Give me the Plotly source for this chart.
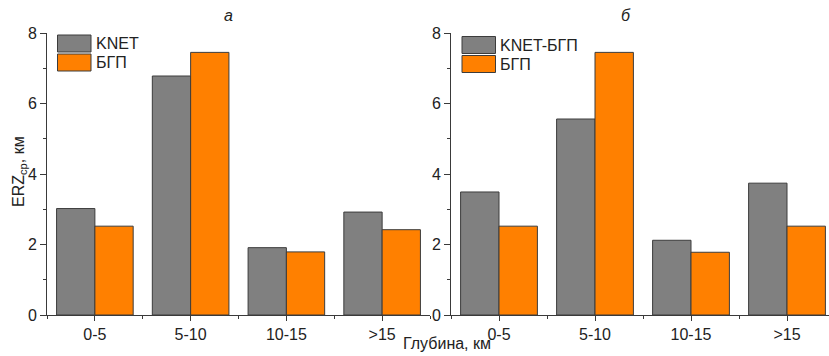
import plotly.graph_objects as go

# ---- data ----
categories = ["0-5", "5-10", "10-15", ">15"]
knet_a = [3.02, 6.78, 1.91, 2.92]
bgp_a = [2.52, 7.45, 1.79, 2.42]
knet_bgp_b = [3.49, 5.56, 2.12, 3.74]
bgp_b = [2.52, 7.45, 1.78, 2.52]
y_major_ticks = [0, 2, 4, 6, 8]
y_minor_ticks = [1, 3, 5, 7]
series_names_a = ["KNET", "БГП"]
series_names_b = ["KNET-БГП", "БГП"]
panel_titles = ["а", "б"]
y_title = "ERZ<sub>ср</sub>, км"
x_title = "Глубина, км"

W, H = 829, 356
GRAY = "#808080"
ORANGE = "#FF8000"
EDGE = "#3c3c3c"
AX = "#3a3a3a"
TXT = "#222222"
FONT = "Liberation Sans, Arial, sans-serif"

pos = list(range(len(categories)))
boundaries = [p - 0.5 for p in pos] + [pos[-1] + 0.5]


def px(x):
    return x / W


def py(y):
    return 1 - y / H


fig = go.Figure()
panels = [
    (knet_a, bgp_a, series_names_a, "x", "y"),
    (knet_bgp_b, bgp_b, series_names_b, "x2", "y2"),
]
for s1, s2, names, xa, ya in panels:
    fig.add_trace(go.Bar(x=pos, y=s1, name=names[0], marker=dict(color=GRAY, line=dict(color=EDGE, width=1)),
                         xaxis=xa, yaxis=ya, showlegend=False))
    fig.add_trace(go.Bar(x=pos, y=s2, name=names[1], marker=dict(color=ORANGE, line=dict(color=EDGE, width=1)),
                         xaxis=xa, yaxis=ya, showlegend=False))

common_x = dict(
    tickmode="array", tickvals=pos, ticktext=categories,
    ticks="outside", ticklen=5, tickwidth=1, tickcolor=AX,
    showline=True, linecolor=AX, linewidth=1, showgrid=False, zeroline=False,
    automargin=False,
    tickfont=dict(size=16, color=TXT, family=FONT),
    minor=dict(tickmode="array", tickvals=boundaries, ticks="outside", ticklen=3, tickcolor=AX, showgrid=False),
)
common_y = dict(
    range=[0, 8], tickmode="array", tickvals=y_major_ticks,
    ticks="outside", ticklen=6, tickwidth=1, tickcolor=AX,
    showline=True, linecolor=AX, linewidth=1, showgrid=False, zeroline=False,
    automargin=False,
    tickfont=dict(size=16, color=TXT, family=FONT),
    minor=dict(tickmode="array", tickvals=y_minor_ticks, ticks="outside", ticklen=3, tickcolor=AX, showgrid=False),
)

y_dom = [py(315), py(33)]
fig.update_layout(
    width=W, height=H,
    margin=dict(l=0, r=0, t=0, b=0, autoexpand=False),
    paper_bgcolor="white", plot_bgcolor="white",
    barmode="group", bargap=0.2, bargroupgap=0,
    font=dict(family=FONT, color=TXT),
    xaxis=dict(domain=[px(47), px(430)], range=[-0.5, 3.5], anchor="y", **common_x),
    yaxis=dict(domain=y_dom, anchor="x", **common_y),
    xaxis2=dict(domain=[px(451), 1.0], range=[-0.5, 3.4375], anchor="y2", **common_x),
    yaxis2=dict(domain=y_dom, anchor="x2", **common_y),
)

annotations = []
shapes = []
# panel titles
for t, xc in zip(panel_titles, [228, 626]):
    annotations.append(dict(text="<i>" + t + "</i>", x=px(xc), y=py(15), xref="paper", yref="paper",
                            showarrow=False, font=dict(size=16, color=TXT, family=FONT),
                            xanchor="center", yanchor="middle"))
# axis titles
annotations.append(dict(text=y_title, x=px(19), y=py(172), xref="paper", yref="paper", textangle=-90,
                        showarrow=False, font=dict(size=16, color=TXT, family=FONT),
                        xanchor="center", yanchor="middle"))
annotations.append(dict(text=x_title, x=px(447), y=py(343), xref="paper", yref="paper",
                        showarrow=False, font=dict(size=16, color=TXT, family=FONT),
                        xanchor="center", yanchor="middle"))

# legends (drawn as boxes + labels)
legend_specs = [(series_names_a, 57.5, 35), (series_names_b, 462, 36.5)]
for names, lx, ly in legend_specs:
    for i, (nm, col) in enumerate(zip(names, [GRAY, ORANGE])):
        y0 = ly + i * 19
        shapes.append(dict(type="rect", xref="paper", yref="paper",
                           x0=px(lx), x1=px(lx + 33.5), y0=py(y0), y1=py(y0 + 17),
                           fillcolor=col, line=dict(color=EDGE, width=1)))
        annotations.append(dict(text=nm, x=px(lx + 36), y=py(y0 + 8.5), xref="paper", yref="paper",
                                showarrow=False, font=dict(size=16, color=TXT, family=FONT),
                                xanchor="left", yanchor="middle"))

fig.update_layout(annotations=annotations, shapes=shapes)
fig.write_html(
    "out.html",
    config={"displayModeBar": False},
    post_script="document.body.style.margin='0px'; document.body.style.padding='0px'; document.documentElement.style.overflow='hidden';",
)
